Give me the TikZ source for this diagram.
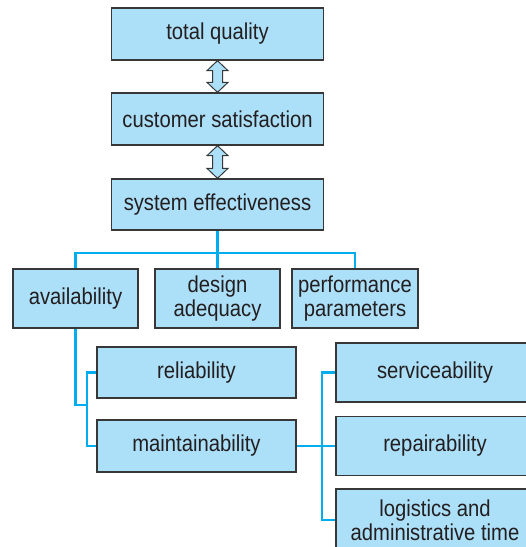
\documentclass[tikz,border=0pt]{standalone}
\usepackage{fontspec}
\setmainfont{Liberation Sans}[FakeStretch=0.88]
\usetikzlibrary{calc}
\definecolor{QFill}{RGB}{172,223,248}
\definecolor{QLine}{RGB}{0,174,239}
\definecolor{QEdge}{RGB}{55,55,55}
\definecolor{QText}{RGB}{35,31,32}
\tikzset{
	qbox/.style={draw=QEdge, fill=QFill, line width=1.3pt, align=center,
		inner sep=0pt, text=QText},
	qlink/.style={draw=QLine, line width=2.6pt, line cap=butt, line join=miter}
}
% double arrow between two stacked boxes
\newcommand{\dblarr}[2]{%
	\draw[draw=QEdge, fill=QFill, line width=1pt, line join=miter]
	(#1.south) -- ++(10.5,10) -- ++(-5.5,0)
	-- ($(#2.north)+(5,-10)$) -- ++(5.5,0) -- (#2.north)
	-- ++(-10.5,-10) -- ++(5.5,0)
	-- ($(#1.south)+(-5,10)$) -- ++(-5.5,0) -- cycle;
}

\begin{document}
\begin{tikzpicture}[x=1pt, y=-1pt, font=\fontsize{23}{24}\selectfont]
		\useasboundingbox (0,0) rectangle (526,547);
		\clip (0,0) rectangle (526,547);
		
		% -- Top column ------------------------------------------------
		\node[qbox, minimum width=212, minimum height=52] (tq) at (217.5,34) {total quality};
		\node[qbox, minimum width=212, minimum height=52] (cs) at (217.5,119) {customer satisfaction};
		\node[qbox, minimum width=212, minimum height=51] (se) at (217.5,204.5) {system effectiveness};
		
		\dblarr{tq}{cs}
		\dblarr{cs}{se}
		
		% -- Second row -----------------------------------------------
		\node[qbox, minimum width=125, minimum height=59] (av) at (75.5,298.5) {availability};
		\node[qbox, minimum width=125, minimum height=59] (da) at (217.5,298.5) {design\\adequacy};
		\node[qbox, minimum width=126, minimum height=59] (pp) at (355,298.5) {performance\\parameters};
		
		\coordinate (bus) at (217.5,253);
		\draw[qlink] (se.south) -- (da.north);
		\draw[qlink] (bus) -| (av.north);
		\draw[qlink] (bus) -| (pp.north);
		
		% -- Availability branch --------------------------------------
		\node[qbox, minimum width=199, minimum height=51] (rel) at (196.5,372.5) {reliability};
		\node[qbox, minimum width=199, minimum height=52] (mai) at (196.5,446) {maintainability};
		
		\coordinate (abus) at (87,405);
		\draw[qlink] (av.south) |- (abus);
		\draw[qlink] (rel.west) -| (abus) |- (mai.west);
		
		% -- Maintainability branch (boxes run off the right edge) ----
		\node[qbox, minimum width=198, minimum height=59] (ser) at (435,372.5) {serviceability};
		\node[qbox, minimum width=198, minimum height=59] (rep) at (435,446) {repairability};
		\node[qbox, minimum width=198, minimum height=62] (lgt) at (435,520) {logistics and\\administrative time};
		
		\coordinate (mbus) at (322,446);
		\draw[qlink] (mai.east) -- (rep.west);
		\draw[qlink] (ser.west) -| (mbus) |- (lgt.west);
		
	\end{tikzpicture}
\end{document}
